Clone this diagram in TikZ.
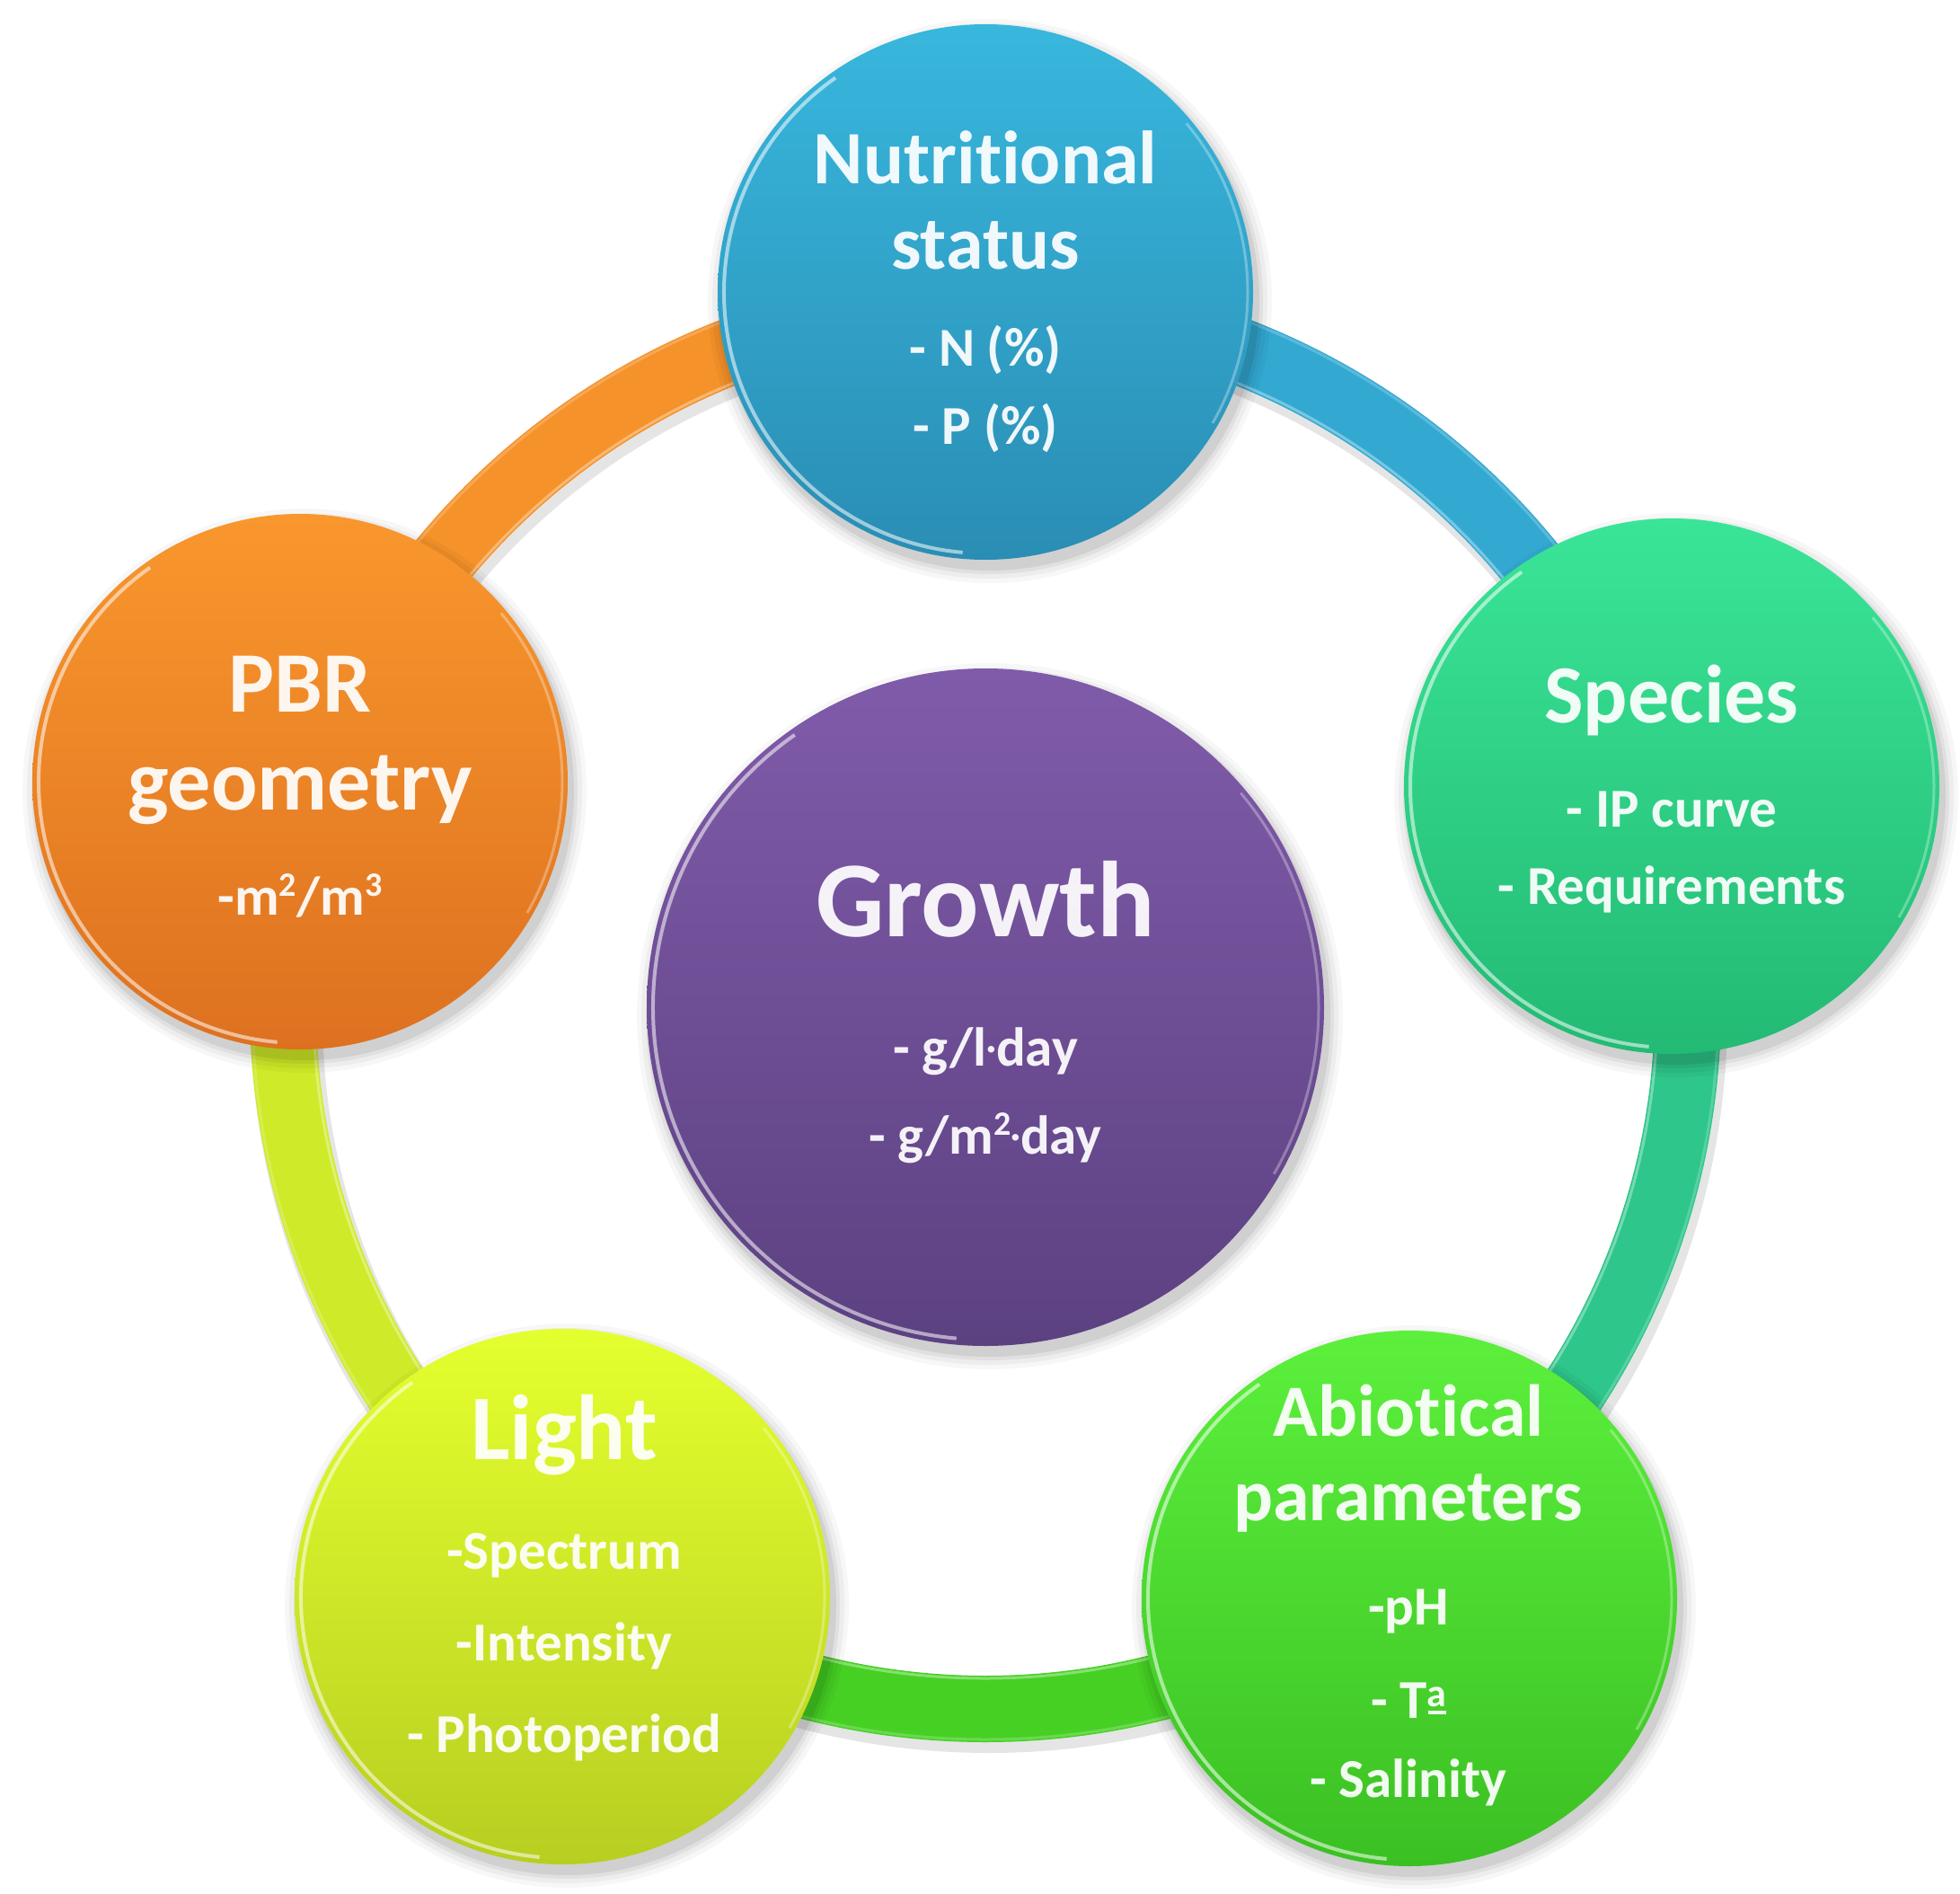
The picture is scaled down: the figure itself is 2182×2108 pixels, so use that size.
\documentclass[tikz,border=0pt]{standalone}
\usepackage{fontspec}
\setmainfont{Carlito}[Ligatures={NoCommon}]
\usetikzlibrary{calc}
\newcommand\tfs[1]{\fontsize{#1}{#1}\selectfont\bfseries}
\newcommand\supdig[1]{\raisebox{21pt}{\fontsize{38}{38}\selectfont #1}}
\newcommand\cdotsmall{{\fontsize{40}{40}\selectfont\raisebox{7pt}{·}}}
\newcommand\ordA{\raisebox{13pt}{\fontsize{44}{44}\selectfont a}\kern-21pt\rule[4pt]{20pt}{4pt}}
\definecolor{nutA}{HTML}{38B7DD}\definecolor{nutB}{HTML}{2A8DB4}
\definecolor{speA}{HTML}{3AE597}\definecolor{speB}{HTML}{23BA74}
\definecolor{abiA}{HTML}{5CF03C}\definecolor{abiB}{HTML}{3BC023}
\definecolor{ligA}{HTML}{E4FF2E}\definecolor{ligB}{HTML}{B8CE21}
\definecolor{pbrA}{HTML}{F9972D}\definecolor{pbrB}{HTML}{DD7120}
\definecolor{groA}{HTML}{805BAA}\definecolor{groB}{HTML}{5C4181}
\definecolor{segNS}{HTML}{33A9D2}
\definecolor{segSA}{HTML}{2EC68A}
\definecolor{segAL}{HTML}{46D024}
\definecolor{segLP}{HTML}{CFEA28}
\definecolor{segPN}{HTML}{F5922A}
\begin{document}
\begin{tikzpicture}[x=1pt,y=1pt,
  bubble/.style={circle, minimum size=596pt, inner sep=0pt, draw=none},
  bigbubble/.style={circle, minimum size=754pt, inner sep=0pt, draw=none},
  lbl/.style={anchor=base, inner sep=0pt, text=white, text opacity=0.93},
  seg/.style={line width=74pt},
  segshadow/.style={black, opacity=0.10, line width=80pt},
  seghl/.style={white, opacity=0.35, line width=3pt},
  rim/.style={white, opacity=0.55, line width=4pt},
  rimfaint/.style={white, opacity=0.3, line width=3pt}]
\fill[white] (0,0) rectangle (2182,-2108);
\useasboundingbox (0,0) rectangle (2182,-2108);

\coordinate (ctr) at (1097,-1120);
\coordinate (c-nut) at (1097,-325);
\coordinate (c-spe) at (1861,-875);
\coordinate (c-abi) at (1569,-1779);
\coordinate (c-lig) at (626,-1777);
\coordinate (c-pbr) at (334,-870);
\coordinate (c-gro) at (1097,-1121);

% ring shadow
\draw[segshadow] ([shift={(4,-9)}]ctr) circle[radius=782];

% ring segments
\draw[seg, segNS] (ctr) ++(18:782) arc[start angle=18, end angle=90, radius=782];
\draw[seg, segSA] (ctr) ++(-54:782) arc[start angle=-54, end angle=18, radius=782];
\draw[seg, segAL] (ctr) ++(-126:782) arc[start angle=-126, end angle=-54, radius=782];
\draw[seg, segLP] (ctr) ++(162:782) arc[start angle=162, end angle=234, radius=782];
\draw[seg, segPN] (ctr) ++(90:782) arc[start angle=90, end angle=162, radius=782];
% ring highlights
\draw[seghl] (ctr) ++(-180:748) arc[start angle=-180, end angle=180, radius=748];
\draw[seghl, opacity=0.2] (ctr) ++(-180:816) arc[start angle=-180, end angle=180, radius=816];

% soft shadows
\foreach \c/\r in {c-nut/298, c-spe/298, c-abi/298, c-lig/298, c-pbr/298, c-gro/377}{
  \foreach \d/\o in {16/0.03, 11/0.04, 6/0.05, 2/0.07}{
    \fill[black, opacity=\o] ([shift={(5,-10)}]\c) circle[radius=\r+\d];
  }
}

% bubbles
\node[bubble, top color=nutA, bottom color=nutB] (nut) at (c-nut) {};
\node[bubble, top color=speA, bottom color=speB] (spe) at (c-spe) {};
\node[bubble, top color=abiA, bottom color=abiB] (abi) at (c-abi) {};
\node[bubble, top color=ligA, bottom color=ligB] (lig) at (c-lig) {};
\node[bubble, top color=pbrA, bottom color=pbrB] (pbr) at (c-pbr) {};
\node[bigbubble, top color=groA, bottom color=groB] (gro) at (c-gro) {};

% rims
\foreach \n in {nut, spe, abi, lig, pbr}{
  \draw[rim] (\n.center) ++(125:291) arc[start angle=125, end angle=265, radius=291];
  \draw[rimfaint] (\n.center) ++(-30:292) arc[start angle=-30, end angle=40, radius=292];
}
\draw[rim] (gro.center) ++(125:370) arc[start angle=125, end angle=265, radius=370];
\draw[rimfaint] (gro.center) ++(-30:371) arc[start angle=-30, end angle=40, radius=371];

% texts
\node[lbl, font=\tfs{84}] (nut-1) at (1097,-205) {Nutritional};
\node[lbl, font=\tfs{84}] (nut-2) at (1097,-300) {status};
\node[lbl, font=\tfs{61}] (nut-3) at (1097,-408) {- N (\%)};
\node[lbl, font=\tfs{61}] (nut-4) at (1097,-494) {- P (\%)};

\node[lbl, font=\tfs{92}] (spe-1) at (1861,-804) {Species};
\node[lbl, font=\tfs{61}] (spe-2) at (1861,-920) {- IP curve};
\node[lbl, font=\tfs{61}] (spe-3) at (1861,-1006) {- Requirements};

\node[lbl, font=\tfs{82}] (abi-1) at (1568,-1598) {Abiotical};
\node[lbl, font=\tfs{82}] (abi-2) at (1568,-1692) {parameters};
\node[lbl, font=\tfs{61}] (abi-3) at (1568,-1808) {-pH};
\node[lbl, font=\tfs{61}] (abi-4) at (1568,-1912) {- T\ordA};
\node[lbl, font=\tfs{61}] (abi-5) at (1568,-2000) {- Salinity};

\node[lbl, font=\tfs{103}] (lig-1) at (628,-1624) {Light};
\node[lbl, font=\tfs{61}] (lig-2) at (628,-1746) {-Spectrum};
\node[lbl, font=\tfs{61}] (lig-3) at (628,-1848) {-Intensity};
\node[lbl, font=\tfs{61}] (lig-4) at (628,-1950) {- Photoperiod};

\node[lbl, font=\tfs{96}] (pbr-1) at (334,-792) {PBR};
\node[lbl, font=\tfs{96}] (pbr-2) at (334,-901) {geometry};
\node[lbl, font=\tfs{61}] (pbr-3) at (334,-1018) {-m\supdig{2}/m\supdig{3}};

\node[lbl, font=\tfs{120}] (gro-1) at (1097,-1042) {Growth};
\node[lbl, font=\tfs{61}] (gro-2) at (1097,-1186) {- g/l\cdotsmall day};
\node[lbl, font=\tfs{61}] (gro-3) at (1097,-1284) {- g/m\supdig{2}\cdotsmall day};
\end{tikzpicture}
\end{document}
